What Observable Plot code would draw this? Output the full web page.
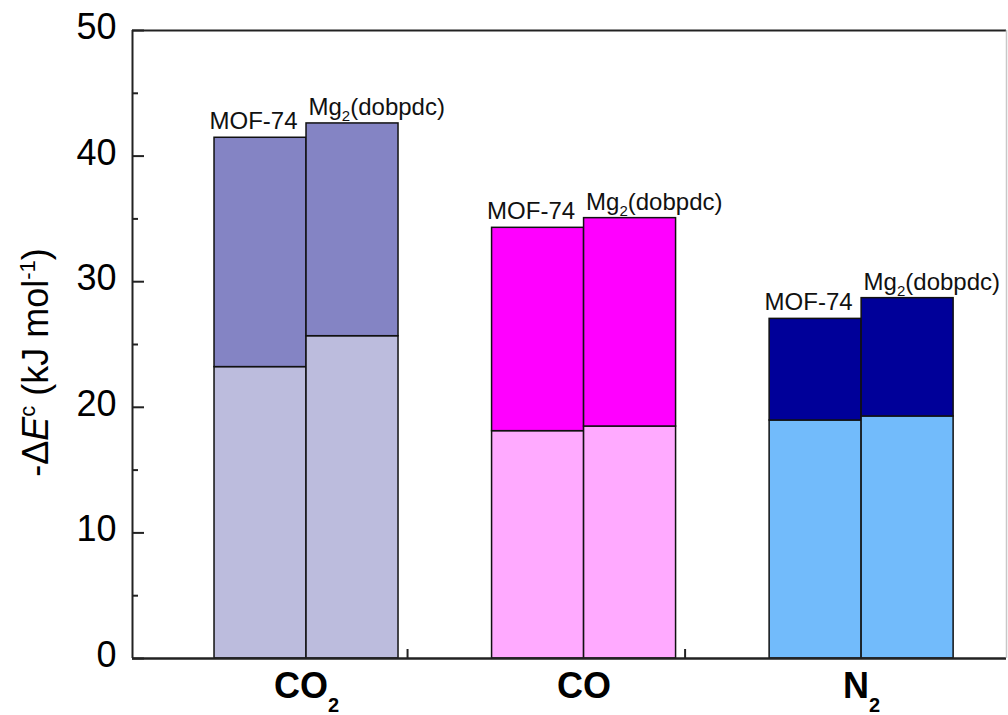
<!DOCTYPE html>
<html><head><meta charset="utf-8">
<script src="https://cdn.jsdelivr.net/npm/d3@7"></script>
<script src="https://cdn.jsdelivr.net/npm/@observablehq/plot@0.6"></script>
<style>
html,body{margin:0;padding:0;background:#fff;}
</style>
</head><body><div id="chart"></div>
<script>
// ---- data ----
const gases = ["CO2", "CO", "N2"];
const materials = ["MOF-74", "Mg2(dobpdc)"];
const lowerMOF74 = [23.2, 18.1, 18.95];
const totalMOF74 = [41.46, 34.29, 27.04];
const lowerMg2 = [25.66, 18.47, 19.27];
const totalMg2 = [42.6, 35.06, 28.69];
const lowerColors = ["#bcbcdd", "#ffaaff", "#72bbfb"];
const upperColors = ["#8484c4", "#ff00ff", "#000099"];
const yMajorTicks = [0, 10, 20, 30, 40, 50];
const yMinorTicks = [5, 15, 25, 35, 45];
const xGroupTicks = [1.364, 2.364];
const yTitle = "-ΔE^c (kJ mol^-1)";

// ---- layout ----
const W = 1008, H = 715, mL = 132, mR = 2, mT = 30, mB = 57;
const xDomain = [0.373, 3.522];
const yDomain = [0, 50];
const pxX = (W - mL - mR) / (xDomain[1] - xDomain[0]);
const pxY = (H - mT - mB) / (yDomain[1] - yDomain[0]);
const barW = 92 / pxX;

const lowers = [lowerMOF74, lowerMg2];
const totals = [totalMOF74, totalMg2];
const segments = [];
const barLabels = [];
gases.forEach((g, i) => materials.forEach((m, j) => {
  const x1 = i + 1 + (j - 1) * barW, x2 = x1 + barW;
  segments.push({x1, x2, y1: 0, y2: lowers[j][i], fill: lowerColors[i]});
  segments.push({x1, x2, y1: lowers[j][i], y2: totals[j][i], fill: upperColors[i]});
  barLabels.push({x: x1, y: totals[j][i], text: m, j});
}));

const font = "'Liberation Sans', Arial, Helvetica, sans-serif";
const axisColor = "#222";

const plot = Plot.plot({
  width: W, height: H,
  marginLeft: mL, marginRight: mR, marginTop: mT, marginBottom: mB,
  style: {fontFamily: font, background: "#fff", overflow: "visible", color: "#000"},
  x: {domain: xDomain, axis: null},
  y: {domain: yDomain, axis: null},
  color: {type: "identity"},
  marks: [
    Plot.rect(segments, {x1: "x1", x2: "x2", y1: "y1", y2: "y2", fill: "fill", stroke: "#111", strokeWidth: 1.5}),
    // frame
    Plot.ruleY([yDomain[0]], {stroke: axisColor, strokeWidth: 2.5}),
    Plot.ruleY([yDomain[1]], {stroke: axisColor, strokeWidth: 2}),
    Plot.ruleX([xDomain[0]], {stroke: axisColor, strokeWidth: 2}),
    Plot.ruleX([xDomain[1]], {stroke: "#c8c8c8", strokeWidth: 1.5}),
    // inward ticks
    Plot.ruleY(yMajorTicks, {y: d => d, x1: xDomain[0], x2: xDomain[0] + 12 / pxX, stroke: axisColor, strokeWidth: 2}),
    Plot.ruleY(yMinorTicks, {y: d => d, x1: xDomain[0], x2: xDomain[0] + 6 / pxX, stroke: axisColor, strokeWidth: 2}),
    Plot.ruleX(xGroupTicks, {x: d => d, y1: yDomain[0], y2: yDomain[0] + 9 / pxY, stroke: axisColor, strokeWidth: 2}),
    // y tick labels
    Plot.text(yMajorTicks, {x: xDomain[0], y: d => d, text: d => String(d), textAnchor: "end", dx: -16, dy: -3,
      fontSize: 36, lineAnchor: "middle", fill: "#000"}),
    // y title
    Plot.text([yTitle], {frameAnchor: "left", rotate: -90, dx: -85, dy: 18, text: d => d, textAnchor: "middle",
      fontSize: 36, lineAnchor: "bottom", fill: "#000"}),
    // gas labels
    Plot.text(gases, {x: (d, i) => i + 1, y: yDomain[0], text: d => d, fontSize: 36, fontWeight: "bold",
      lineAnchor: "bottom", dy: 39, fill: "#000"}),
    // bar labels
    Plot.text(barLabels.filter(d => d.j === 0), {x: "x", y: "y", text: "text", textAnchor: "start", fontSize: 24,
      dx: -5, dy: -9, lineAnchor: "bottom", fill: "#111"}),
    Plot.text(barLabels.filter(d => d.j === 1), {x: "x", y: "y", text: "text", textAnchor: "start", fontSize: 24,
      dx: 2, dy: -8, lineAnchor: "bottom", fill: "#111"})
  ]
});

document.getElementById("chart").appendChild(plot);

// ---- rich text (sub/superscripts) ----
function setRich(el, parts) {
  const sel = d3.select(el);
  sel.text(null);
  let shift = 0;
  for (const p of parts) {
    const ts = sel.append("tspan").text(p.t);
    const target = p.sub ? p.sub : p.sup ? -p.sup : 0;
    if (target !== shift) { ts.attr("dy", target - shift); shift = target; }
    if (p.size) ts.attr("font-size", p.size);
    if (p.italic) ts.attr("font-style", "italic");
  }
}
function chemParts(s, subShift, subSize) {
  const parts = [];
  const re = /([A-Za-z])(\d+)/g;
  let last = 0, m;
  while ((m = re.exec(s))) {
    parts.push({t: s.slice(last, m.index + 1)});
    parts.push({t: m[2], sub: subShift, size: subSize});
    last = m.index + 1 + m[2].length;
  }
  if (last < s.length) parts.push({t: s.slice(last)});
  return parts;
}
d3.select(plot).selectAll("text").each(function() {
  const s = this.textContent;
  if (gases.includes(s)) setRich(this, chemParts(s, 14, 20));
  else if (materials.includes(s)) setRich(this, chemParts(s, 6, 15));
  else if (s === yTitle) setRich(this, [
    {t: "-Δ"}, {t: "E", italic: true}, {t: "c", sup: 13, size: 22},
    {t: " (kJ mol"}, {t: "-1", sup: 13, size: 22}, {t: ")"}
  ]);
});
</script>
</body></html>
